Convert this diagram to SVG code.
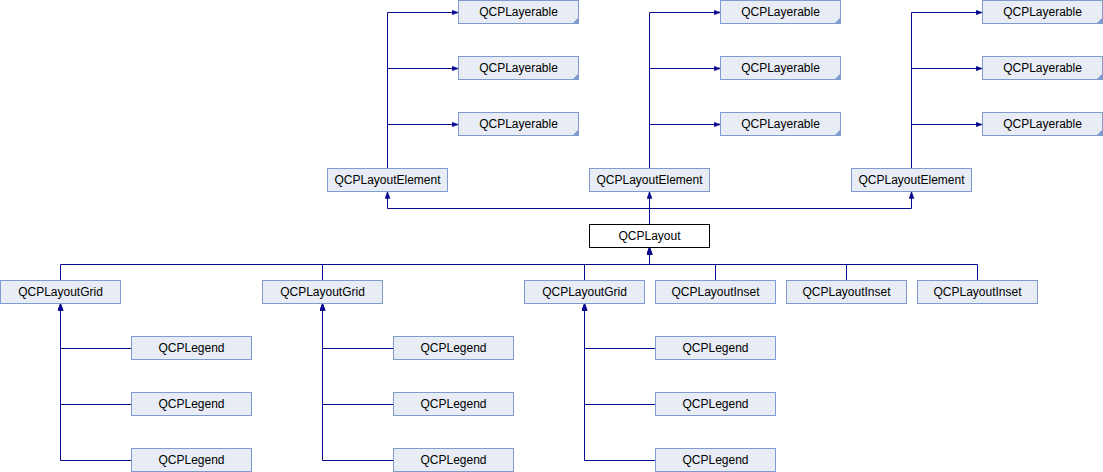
<svg xmlns="http://www.w3.org/2000/svg" width="1103" height="472" viewBox="0 0 1103 472">
<style>
.n rect{fill:#e8ecf5;stroke:#7f9bd0;stroke-width:1}
.n.main rect{fill:#ffffff;stroke:#000000}
.n text{font-family:"Liberation Sans",Arial,sans-serif;font-size:12px;fill:#000;text-anchor:middle}
.n .fold{fill:#7f9bd0;stroke:none}
#edges path{fill:none;stroke:#0a0a90;stroke-width:1;marker-end:url(#ah)}
</style>
<defs>
<marker id="ah" markerUnits="userSpaceOnUse" markerWidth="8" markerHeight="6" refX="7" refY="3" orient="auto">
<path d="M0,0.5 L7,3 L0,5.5 z" fill="#0a0a90" stroke="#0a0a90" stroke-width="0.5"/>
</marker>
</defs>
<rect width="1103" height="472" fill="#ffffff"/>
<g id="edges">
<path d="M387.5,168.5 V12.5 H458.5"/>
<path d="M387.5,168.5 V68.5 H458.5"/>
<path d="M387.5,168.5 V124.5 H458.5"/>
<path d="M649.5,168.5 V12.5 H720.5"/>
<path d="M649.5,168.5 V68.5 H720.5"/>
<path d="M649.5,168.5 V124.5 H720.5"/>
<path d="M911.5,168.5 V12.5 H982.5"/>
<path d="M911.5,168.5 V68.5 H982.5"/>
<path d="M911.5,168.5 V124.5 H982.5"/>
<path d="M649.5,224.5 V208.5 H387.5 V191.5"/>
<path d="M649.5,224.5 V191.5"/>
<path d="M649.5,224.5 V208.5 H911.5 V191.5"/>
<path d="M60.5,280.5 V264.5 H649.5 V247.5"/>
<path d="M322.5,280.5 V264.5 H649.5 V247.5"/>
<path d="M584.5,280.5 V264.5 H649.5 V247.5"/>
<path d="M715.5,280.5 V264.5 H649.5 V247.5"/>
<path d="M846.5,280.5 V264.5 H649.5 V247.5"/>
<path d="M977.5,280.5 V264.5 H649.5 V247.5"/>
<path d="M131.5,348.5 H60.5 V303.5"/>
<path d="M131.5,404.5 H60.5 V303.5"/>
<path d="M131.5,460.5 H60.5 V303.5"/>
<path d="M393.5,348.5 H322.5 V303.5"/>
<path d="M393.5,404.5 H322.5 V303.5"/>
<path d="M393.5,460.5 H322.5 V303.5"/>
<path d="M655.5,348.5 H584.5 V303.5"/>
<path d="M655.5,404.5 H584.5 V303.5"/>
<path d="M655.5,460.5 H584.5 V303.5"/>
</g>
<g id="layerable1" class="n"><rect x="458.5" y="0.5" width="120" height="23"/><path class="fold" d="M578.5,17.5 V23.5 H572.5 z"/><text x="518.5" y="16">QCPLayerable</text></g>
<g id="layerable2" class="n"><rect x="458.5" y="56.5" width="120" height="23"/><path class="fold" d="M578.5,73.5 V79.5 H572.5 z"/><text x="518.5" y="72">QCPLayerable</text></g>
<g id="layerable3" class="n"><rect x="458.5" y="112.5" width="120" height="23"/><path class="fold" d="M578.5,129.5 V135.5 H572.5 z"/><text x="518.5" y="128">QCPLayerable</text></g>
<g id="layerable4" class="n"><rect x="720.5" y="0.5" width="120" height="23"/><path class="fold" d="M840.5,17.5 V23.5 H834.5 z"/><text x="780.5" y="16">QCPLayerable</text></g>
<g id="layerable5" class="n"><rect x="720.5" y="56.5" width="120" height="23"/><path class="fold" d="M840.5,73.5 V79.5 H834.5 z"/><text x="780.5" y="72">QCPLayerable</text></g>
<g id="layerable6" class="n"><rect x="720.5" y="112.5" width="120" height="23"/><path class="fold" d="M840.5,129.5 V135.5 H834.5 z"/><text x="780.5" y="128">QCPLayerable</text></g>
<g id="layerable7" class="n"><rect x="982.5" y="0.5" width="120" height="23"/><path class="fold" d="M1102.5,17.5 V23.5 H1096.5 z"/><text x="1042.5" y="16">QCPLayerable</text></g>
<g id="layerable8" class="n"><rect x="982.5" y="56.5" width="120" height="23"/><path class="fold" d="M1102.5,73.5 V79.5 H1096.5 z"/><text x="1042.5" y="72">QCPLayerable</text></g>
<g id="layerable9" class="n"><rect x="982.5" y="112.5" width="120" height="23"/><path class="fold" d="M1102.5,129.5 V135.5 H1096.5 z"/><text x="1042.5" y="128">QCPLayerable</text></g>
<g id="element1" class="n"><rect x="327.5" y="168.5" width="120" height="23"/><text x="387.5" y="184">QCPLayoutElement</text></g>
<g id="element2" class="n"><rect x="589.5" y="168.5" width="120" height="23"/><text x="649.5" y="184">QCPLayoutElement</text></g>
<g id="element3" class="n"><rect x="851.5" y="168.5" width="120" height="23"/><text x="911.5" y="184">QCPLayoutElement</text></g>
<g id="layout" class="n main"><rect x="589.5" y="224.5" width="120" height="23"/><text x="649.5" y="240">QCPLayout</text></g>
<g id="grid1" class="n"><rect x="0.5" y="280.5" width="120" height="23"/><text x="60.5" y="296">QCPLayoutGrid</text></g>
<g id="grid2" class="n"><rect x="262.5" y="280.5" width="120" height="23"/><text x="322.5" y="296">QCPLayoutGrid</text></g>
<g id="grid3" class="n"><rect x="524.5" y="280.5" width="120" height="23"/><text x="584.5" y="296">QCPLayoutGrid</text></g>
<g id="inset1" class="n"><rect x="655.5" y="280.5" width="120" height="23"/><text x="715.5" y="296">QCPLayoutInset</text></g>
<g id="inset2" class="n"><rect x="786.5" y="280.5" width="120" height="23"/><text x="846.5" y="296">QCPLayoutInset</text></g>
<g id="inset3" class="n"><rect x="917.5" y="280.5" width="120" height="23"/><text x="977.5" y="296">QCPLayoutInset</text></g>
<g id="legend1" class="n"><rect x="131.5" y="336.5" width="120" height="23"/><text x="191.5" y="352">QCPLegend</text></g>
<g id="legend2" class="n"><rect x="131.5" y="392.5" width="120" height="23"/><text x="191.5" y="408">QCPLegend</text></g>
<g id="legend3" class="n"><rect x="131.5" y="448.5" width="120" height="23"/><text x="191.5" y="464">QCPLegend</text></g>
<g id="legend4" class="n"><rect x="393.5" y="336.5" width="120" height="23"/><text x="453.5" y="352">QCPLegend</text></g>
<g id="legend5" class="n"><rect x="393.5" y="392.5" width="120" height="23"/><text x="453.5" y="408">QCPLegend</text></g>
<g id="legend6" class="n"><rect x="393.5" y="448.5" width="120" height="23"/><text x="453.5" y="464">QCPLegend</text></g>
<g id="legend7" class="n"><rect x="655.5" y="336.5" width="120" height="23"/><text x="715.5" y="352">QCPLegend</text></g>
<g id="legend8" class="n"><rect x="655.5" y="392.5" width="120" height="23"/><text x="715.5" y="408">QCPLegend</text></g>
<g id="legend9" class="n"><rect x="655.5" y="448.5" width="120" height="23"/><text x="715.5" y="464">QCPLegend</text></g>
</svg>
